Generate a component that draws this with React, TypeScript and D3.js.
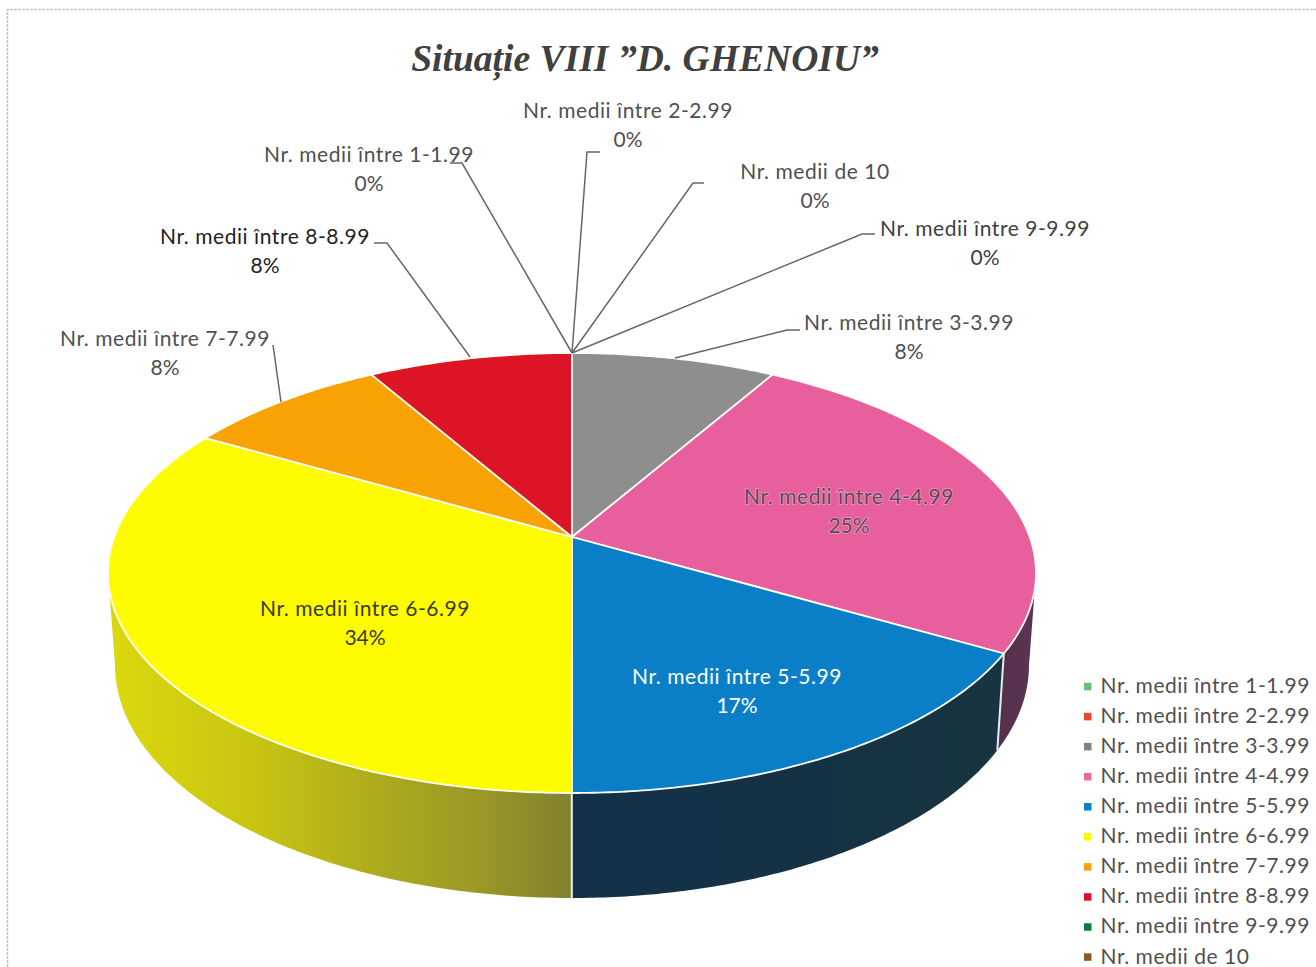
import React from "react";
import * as d3 from "d3";

const categories = [
  "Nr. medii între 1-1.99",
  "Nr. medii între 2-2.99",
  "Nr. medii între 3-3.99",
  "Nr. medii între 4-4.99",
  "Nr. medii între 5-5.99",
  "Nr. medii între 6-6.99",
  "Nr. medii între 7-7.99",
  "Nr. medii între 8-8.99",
  "Nr. medii între 9-9.99",
  "Nr. medii de 10",
];
const shares = [0, 0, 8.33, 25, 16.67, 33.33, 8.33, 8.33, 0, 0];
const percentLabels = ["0%", "0%", "8%", "25%", "17%", "34%", "8%", "8%", "0%", "0%"];
const sliceColors = ["#6cbd7c", "#e8482c", "#8e8e8e", "#e85f9e", "#0a7fc8", "#fffb00", "#f9a203", "#dc1426", "#0b7a45", "#8a5a22"];
const legendColors = ["#6cbd7c", "#e8482c", "#808080", "#ea6ba3", "#0a80c8", "#fdf800", "#f5a30a", "#d5152f", "#0b7a45", "#8a5a22"];
const title = "Situație VIII ”D. GHENOIU”";

// layout (x, first baseline, colour) per category
const labelX = [369, 628, 909, 849, 737, 365, 165, 265, 985, 815];
const labelY = [161.5, 117.5, 329.5, 503.5, 683.5, 615.5, 345.5, 243.5, 235.5, 178.5];
const labelFill = ["#505050", "#505050", "#505050", "#5a4a55", "#ffffff", "#3a3a20", "#505050", "#222222", "#404040", "#505050"];
const leaders: [number, number][][] = [
  [[572, 353], [462, 163], [450, 163]],
  [[572, 353], [587, 152], [600, 152]],
  [[675, 358], [787, 330], [800, 330]],
  [],
  [],
  [],
  [[281, 402], [273, 345]],
  [[470, 357], [387, 243], [374, 243]],
  [[572, 353], [862, 234], [875, 234]],
  [[572, 353], [693, 183], [704, 183]],
];

const W = 1316, H = 967;
const apex = { x: 572, y: 537 };
const topE = { cx: 572, cy: 573, rx: 464, ry: 220 };
const botE = { cx: 572, cy: 665, rx: 457, ry: 233 };
const aspect = 2.14;

// Perspective pie: angle -> ray from the apex -> point on the rim ellipse
function rimTop(theta: number): [number, number] {
  const dx = aspect * Math.sin(theta), dy = -Math.cos(theta);
  const ox = (apex.x - topE.cx) / topE.rx, oy = (apex.y - topE.cy) / topE.ry;
  const ux = dx / topE.rx, uy = dy / topE.ry;
  const a = ux * ux + uy * uy, b = 2 * (ox * ux + oy * uy), c = ox * ox + oy * oy - 1;
  const t = (-b + Math.sqrt(b * b - 4 * a * c)) / (2 * a);
  return [apex.x + t * dx, apex.y + t * dy];
}
function rimBottom(theta: number): [number, number] {
  const [x, y] = rimTop(theta);
  return [botE.cx + ((x - topE.cx) * botE.rx) / topE.rx, botE.cy + ((y - topE.cy) * botE.ry) / topE.ry];
}
function sample(a: number, b: number, f: (t: number) => [number, number]) {
  const n = Math.max(2, Math.ceil(Math.abs(b - a) / 0.01));
  return d3.range(n + 1).map((i) => f(a + ((b - a) * i) / n));
}

const lineGen = d3.line<[number, number]>();
const pieGen = d3.pie<number>().sort(null).startAngle(0).endAngle(2 * Math.PI);
const arcs = pieGen(shares);

// angle at which the rim reaches its extreme left/right on screen
const rightExtreme = (() => {
  const th = d3.range(0, Math.PI, 0.002);
  return th[d3.maxIndex(th, (t) => rimTop(t)[0])];
})();
const leftExtreme = (() => {
  const th = d3.range(Math.PI, 2 * Math.PI, 0.002);
  return th[d3.minIndex(th, (t) => rimTop(t)[0])];
})();

const wallFill = (i: number) => (i === 3 ? "url(#wallPink)" : i === 4 ? "url(#wallBlue)" : "url(#wallYellow)");

export default function App() {
  return (
    <svg
      width={W}
      height={H}
      viewBox={`0 0 ${W} ${H}`}
      style={{ position: "absolute", left: 0, top: 0, background: "#fff", fontFamily: "Lato, 'Noto Sans', sans-serif" }}
    >
      <defs>
        <linearGradient id="wallYellow" gradientUnits="userSpaceOnUse" x1="108" y1="0" x2="572" y2="0">
          <stop offset="0" stopColor="#dbd80e" />
          <stop offset="0.3" stopColor="#c9c612" />
          <stop offset="0.55" stopColor="#b0ae1c" />
          <stop offset="0.8" stopColor="#999826" />
          <stop offset="1" stopColor="#82812f" />
        </linearGradient>
        <linearGradient id="wallBlue" gradientUnits="userSpaceOnUse" x1="572" y1="0" x2="1000" y2="0">
          <stop offset="0" stopColor="#12304a" />
          <stop offset="1" stopColor="#183440" />
        </linearGradient>
        <linearGradient id="wallPink" gradientUnits="userSpaceOnUse" x1="996" y1="0" x2="1036" y2="0">
          <stop offset="0" stopColor="#52304c" />
          <stop offset="1" stopColor="#5c3552" />
        </linearGradient>
      </defs>
      <path d={`M7.5 ${H}V9.5H${W}`} fill="none" stroke="#c4c4c4" strokeWidth={1.5} strokeDasharray="3 1" />

      {arcs.map((d, i) => {
        const a = d.startAngle, b = d.endAngle;
        const vis0 = Math.max(a, rightExtreme), vis1 = Math.min(b, leftExtreme);
        if (b - a === 0 || vis1 <= vis0) return null;
        const pts = [...sample(vis0, vis1, rimTop), ...sample(vis1, vis0, rimBottom)];
        return <path key={i} d={lineGen(pts) + "Z"} fill={wallFill(i)} />;
      })}
      {arcs.slice(4, 6).map((d, i) => {
        // white seam on the wall at the start of the blue and yellow slices
        const seam = [rimTop(d.startAngle), rimBottom(d.startAngle)];
        return <path key={i} d={lineGen(seam) ?? ""} fill="none" stroke="#e4eeee" strokeWidth={2} />;
      })}

      {arcs.map((d, i) => {
        if (d.endAngle - d.startAngle === 0) return null;
        const pts: [number, number][] = [[apex.x, apex.y], ...sample(d.startAngle, d.endAngle, rimTop)];
        return <path key={i} d={lineGen(pts) + "Z"} fill={sliceColors[i]} stroke="#fdfdf6" strokeWidth={1.8} strokeLinejoin="round" />;
      })}

      {leaders.map((pts, i) =>
        pts.length ? <path key={i} d={lineGen(pts) ?? ""} fill="none" stroke="#666" strokeWidth={1.5} /> : null
      )}

      <text
        x={645}
        y={71}
        textAnchor="middle"
        fontFamily="'Liberation Serif', serif"
        fontWeight="bold"
        fontStyle="italic"
        fontSize={37.6}
        fill="#404040"
      >
        {title}
      </text>

      {categories.map((c, i) => (
        <g
          key={c}
          textAnchor="middle"
          fontSize={21}
          fill={labelFill[i]}
          stroke={i === 3 ? "rgba(255,225,240,0.45)" : "none"}
          strokeWidth={i === 3 ? 1.6 : 0}
          style={{ paintOrder: "stroke" }}
        >
          <text x={labelX[i]} y={labelY[i]} letterSpacing={0.55}>{c}</text>
          <text x={labelX[i]} y={labelY[i] + 29}>{percentLabels[i]}</text>
        </g>
      ))}

      {categories.map((c, i) => {
        const y = d3.scaleLinear().domain([0, 9]).range([686.5, 957])(i);
        return (
          <g key={c}>
            <rect x={1084} y={y - 3.7} width={7.5} height={7.5} fill={legendColors[i]} />
            <text x={1100.5} y={y + 6.5} fontSize={21} letterSpacing={0.52} fill="#505050">{c}</text>
          </g>
        );
      })}
    </svg>
  );
}
